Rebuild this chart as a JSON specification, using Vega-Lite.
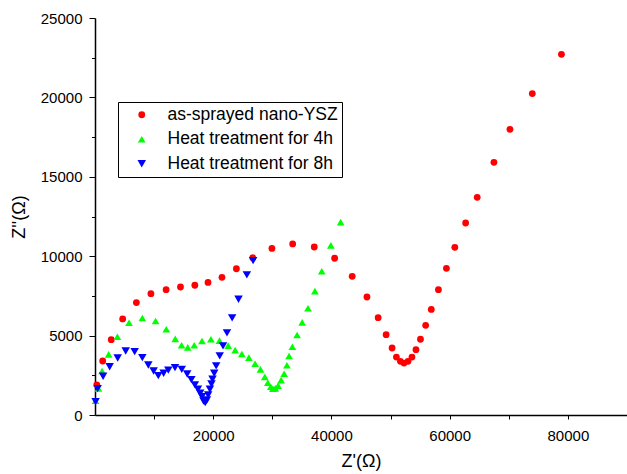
{
  "$schema": "https://vega.github.io/schema/vega-lite/v6.json",
  "width": 532,
  "height": 397,
  "autosize": {"type": "none"},
  "padding": {"left": 95, "top": 18, "right": 0, "bottom": 59},
  "background": "white",
  "config": {"view": {"stroke": null}, "font": "Liberation Sans"},
  "data": {
    "values": [
      {"s": "as-sprayed nano-YSZ", "zr": 300, "zi": 1900},
      {"s": "as-sprayed nano-YSZ", "zr": 1300, "zi": 3400},
      {"s": "as-sprayed nano-YSZ", "zr": 2750, "zi": 4740},
      {"s": "as-sprayed nano-YSZ", "zr": 4680, "zi": 6050},
      {"s": "as-sprayed nano-YSZ", "zr": 7000, "zi": 7080},
      {"s": "as-sprayed nano-YSZ", "zr": 9460, "zi": 7640},
      {"s": "as-sprayed nano-YSZ", "zr": 12030, "zi": 7890},
      {"s": "as-sprayed nano-YSZ", "zr": 14460, "zi": 8060},
      {"s": "as-sprayed nano-YSZ", "zr": 16890, "zi": 8170},
      {"s": "as-sprayed nano-YSZ", "zr": 19120, "zi": 8350},
      {"s": "as-sprayed nano-YSZ", "zr": 21480, "zi": 8670},
      {"s": "as-sprayed nano-YSZ", "zr": 23920, "zi": 9210},
      {"s": "as-sprayed nano-YSZ", "zr": 26690, "zi": 9910},
      {"s": "as-sprayed nano-YSZ", "zr": 29930, "zi": 10490},
      {"s": "as-sprayed nano-YSZ", "zr": 33440, "zi": 10770},
      {"s": "as-sprayed nano-YSZ", "zr": 37090, "zi": 10580},
      {"s": "as-sprayed nano-YSZ", "zr": 40540, "zi": 9870},
      {"s": "as-sprayed nano-YSZ", "zr": 43510, "zi": 8730},
      {"s": "as-sprayed nano-YSZ", "zr": 46010, "zi": 7430},
      {"s": "as-sprayed nano-YSZ", "zr": 47900, "zi": 6130},
      {"s": "as-sprayed nano-YSZ", "zr": 49250, "zi": 5060},
      {"s": "as-sprayed nano-YSZ", "zr": 50260, "zi": 4220},
      {"s": "as-sprayed nano-YSZ", "zr": 50990, "zi": 3650},
      {"s": "as-sprayed nano-YSZ", "zr": 51670, "zi": 3380},
      {"s": "as-sprayed nano-YSZ", "zr": 52270, "zi": 3270},
      {"s": "as-sprayed nano-YSZ", "zr": 52950, "zi": 3380},
      {"s": "as-sprayed nano-YSZ", "zr": 53620, "zi": 3650},
      {"s": "as-sprayed nano-YSZ", "zr": 54300, "zi": 4110},
      {"s": "as-sprayed nano-YSZ", "zr": 55060, "zi": 4770},
      {"s": "as-sprayed nano-YSZ", "zr": 55940, "zi": 5650},
      {"s": "as-sprayed nano-YSZ", "zr": 56890, "zi": 6650},
      {"s": "as-sprayed nano-YSZ", "zr": 58100, "zi": 7890},
      {"s": "as-sprayed nano-YSZ", "zr": 59450, "zi": 9235},
      {"s": "as-sprayed nano-YSZ", "zr": 60870, "zi": 10560},
      {"s": "as-sprayed nano-YSZ", "zr": 62700, "zi": 12090},
      {"s": "as-sprayed nano-YSZ", "zr": 64660, "zi": 13710},
      {"s": "as-sprayed nano-YSZ", "zr": 67490, "zi": 15910},
      {"s": "as-sprayed nano-YSZ", "zr": 70200, "zi": 17990},
      {"s": "as-sprayed nano-YSZ", "zr": 73980, "zi": 20240},
      {"s": "as-sprayed nano-YSZ", "zr": 78910, "zi": 22710},
      {"s": "Heat treatment for 4h", "zr": 100, "zi": 900},
      {"s": "Heat treatment for 4h", "zr": 575, "zi": 1680},
      {"s": "Heat treatment for 4h", "zr": 1200, "zi": 2770},
      {"s": "Heat treatment for 4h", "zr": 2310, "zi": 3820},
      {"s": "Heat treatment for 4h", "zr": 3790, "zi": 4930},
      {"s": "Heat treatment for 4h", "zr": 5760, "zi": 5810},
      {"s": "Heat treatment for 4h", "zr": 8010, "zi": 6110},
      {"s": "Heat treatment for 4h", "zr": 10250, "zi": 5920},
      {"s": "Heat treatment for 4h", "zr": 12060, "zi": 5400},
      {"s": "Heat treatment for 4h", "zr": 13580, "zi": 4790},
      {"s": "Heat treatment for 4h", "zr": 14650, "zi": 4390},
      {"s": "Heat treatment for 4h", "zr": 15690, "zi": 4260},
      {"s": "Heat treatment for 4h", "zr": 16790, "zi": 4390},
      {"s": "Heat treatment for 4h", "zr": 18090, "zi": 4660},
      {"s": "Heat treatment for 4h", "zr": 19610, "zi": 4770},
      {"s": "Heat treatment for 4h", "zr": 21060, "zi": 4680},
      {"s": "Heat treatment for 4h", "zr": 22530, "zi": 4370},
      {"s": "Heat treatment for 4h", "zr": 23710, "zi": 4090},
      {"s": "Heat treatment for 4h", "zr": 24840, "zi": 3840},
      {"s": "Heat treatment for 4h", "zr": 26030, "zi": 3610},
      {"s": "Heat treatment for 4h", "zr": 27090, "zi": 3230},
      {"s": "Heat treatment for 4h", "zr": 27990, "zi": 2870},
      {"s": "Heat treatment for 4h", "zr": 28730, "zi": 2400},
      {"s": "Heat treatment for 4h", "zr": 29240, "zi": 2030},
      {"s": "Heat treatment for 4h", "zr": 29740, "zi": 1780},
      {"s": "Heat treatment for 4h", "zr": 30100, "zi": 1650},
      {"s": "Heat treatment for 4h", "zr": 30500, "zi": 1680},
      {"s": "Heat treatment for 4h", "zr": 30980, "zi": 1850},
      {"s": "Heat treatment for 4h", "zr": 31480, "zi": 2200},
      {"s": "Heat treatment for 4h", "zr": 32000, "zi": 2600},
      {"s": "Heat treatment for 4h", "zr": 32470, "zi": 3130},
      {"s": "Heat treatment for 4h", "zr": 32830, "zi": 3715},
      {"s": "Heat treatment for 4h", "zr": 33390, "zi": 4300},
      {"s": "Heat treatment for 4h", "zr": 34190, "zi": 5040},
      {"s": "Heat treatment for 4h", "zr": 35050, "zi": 5830},
      {"s": "Heat treatment for 4h", "zr": 36030, "zi": 6720},
      {"s": "Heat treatment for 4h", "zr": 37200, "zi": 7800},
      {"s": "Heat treatment for 4h", "zr": 38360, "zi": 9050},
      {"s": "Heat treatment for 4h", "zr": 39900, "zi": 10680},
      {"s": "Heat treatment for 4h", "zr": 41560, "zi": 12150},
      {"s": "Heat treatment for 8h", "zr": 100, "zi": 840},
      {"s": "Heat treatment for 8h", "zr": 450, "zi": 1660},
      {"s": "Heat treatment for 8h", "zr": 1370, "zi": 2440},
      {"s": "Heat treatment for 8h", "zr": 2480, "zi": 3040},
      {"s": "Heat treatment for 8h", "zr": 3840, "zi": 3590},
      {"s": "Heat treatment for 8h", "zr": 5190, "zi": 4030},
      {"s": "Heat treatment for 8h", "zr": 6710, "zi": 3990},
      {"s": "Heat treatment for 8h", "zr": 8010, "zi": 3610},
      {"s": "Heat treatment for 8h", "zr": 9020, "zi": 3150},
      {"s": "Heat treatment for 8h", "zr": 9920, "zi": 2770},
      {"s": "Heat treatment for 8h", "zr": 10710, "zi": 2480},
      {"s": "Heat treatment for 8h", "zr": 11610, "zi": 2630},
      {"s": "Heat treatment for 8h", "zr": 12400, "zi": 2830},
      {"s": "Heat treatment for 8h", "zr": 13530, "zi": 2980},
      {"s": "Heat treatment for 8h", "zr": 14680, "zi": 2870},
      {"s": "Heat treatment for 8h", "zr": 15600, "zi": 2580},
      {"s": "Heat treatment for 8h", "zr": 16300, "zi": 2230},
      {"s": "Heat treatment for 8h", "zr": 16900, "zi": 1900},
      {"s": "Heat treatment for 8h", "zr": 17410, "zi": 1620},
      {"s": "Heat treatment for 8h", "zr": 17800, "zi": 1380},
      {"s": "Heat treatment for 8h", "zr": 18090, "zi": 1150},
      {"s": "Heat treatment for 8h", "zr": 18360, "zi": 880},
      {"s": "Heat treatment for 8h", "zr": 18650, "zi": 775},
      {"s": "Heat treatment for 8h", "zr": 18930, "zi": 945},
      {"s": "Heat treatment for 8h", "zr": 19150, "zi": 1260},
      {"s": "Heat treatment for 8h", "zr": 19440, "zi": 1620},
      {"s": "Heat treatment for 8h", "zr": 19710, "zi": 1950},
      {"s": "Heat treatment for 8h", "zr": 19880, "zi": 2250},
      {"s": "Heat treatment for 8h", "zr": 20170, "zi": 2630},
      {"s": "Heat treatment for 8h", "zr": 20500, "zi": 3090},
      {"s": "Heat treatment for 8h", "zr": 21100, "zi": 3720},
      {"s": "Heat treatment for 8h", "zr": 21660, "zi": 4350},
      {"s": "Heat treatment for 8h", "zr": 22330, "zi": 5170},
      {"s": "Heat treatment for 8h", "zr": 23200, "zi": 6120},
      {"s": "Heat treatment for 8h", "zr": 24280, "zi": 7290},
      {"s": "Heat treatment for 8h", "zr": 25690, "zi": 8820},
      {"s": "Heat treatment for 8h", "zr": 26750, "zi": 9720}
    ]
  },
  "mark": {"type": "point", "filled": true, "opacity": 1, "strokeWidth": 0},
  "encoding": {
    "x": {
      "field": "zr",
      "type": "quantitative",
      "scale": {"domain": [0, 90000], "nice": false, "zero": false},
      "axis": {
        "title": "Z'(Ω)",
        "values": [10000, 20000, 30000, 40000, 50000, 60000, 70000, 80000],
        "format": "d",
        "labelExpr": "datum.value % 20000 === 0 ? datum.label : ''",
        "grid": false,
        "domainColor": "black",
        "domainWidth": 1.5,
        "tickColor": "black",
        "tickWidth": 1,
        "tickSize": 4,
        "labelFontSize": 15,
        "labelColor": "black",
        "labelPadding": 9,
        "labelFlush": false,
        "labelOverlap": false,
        "titleFontSize": 18,
        "titleFontWeight": "normal",
        "titleColor": "black",
        "titlePadding": 9
      }
    },
    "y": {
      "field": "zi",
      "type": "quantitative",
      "scale": {"domain": [0, 25000], "nice": false},
      "axis": {
        "title": "Z''(Ω)",
        "values": [0, 2500, 5000, 7500, 10000, 12500, 15000, 17500, 20000, 22500, 25000],
        "format": "d",
        "labelExpr": "datum.value % 5000 === 0 ? datum.label : ''",
        "grid": false,
        "domainColor": "black",
        "domainWidth": 1.5,
        "tickColor": "black",
        "tickWidth": 1,
        "tickSize": {"condition": {"test": "datum.value % 5000 === 0", "value": 6}, "value": 3.5},
        "labelFontSize": 15,
        "labelColor": "black",
        "labelPadding": 7,
        "labelFlush": false,
        "labelOverlap": false,
        "titleFontSize": 18,
        "titleFontWeight": "normal",
        "titleColor": "black",
        "titlePadding": 12
      }
    },
    "size": {
      "field": "s",
      "type": "nominal",
      "scale": {
        "domain": ["as-sprayed nano-YSZ", "Heat treatment for 4h", "Heat treatment for 8h"],
        "range": [46, 72, 72]
      },
      "legend": null
    },
    "color": {
      "field": "s",
      "type": "nominal",
      "scale": {
        "domain": ["as-sprayed nano-YSZ", "Heat treatment for 4h", "Heat treatment for 8h"],
        "range": ["#ff0000", "#00ff00", "#0000ff"]
      },
      "legend": {
        "orient": "none",
        "legendX": 23,
        "legendY": 84,
        "title": null,
        "strokeColor": "black",
        "fillColor": "white",
        "padding": 4,
        "labelFontSize": 17.5,
        "labelColor": "black",
        "labelLimit": 400,
        "symbolSize": 34,
        "symbolOffset": 11,
        "labelOffset": 17,
        "rowPadding": 5.5
      }
    },
    "shape": {
      "field": "s",
      "type": "nominal",
      "scale": {
        "domain": ["as-sprayed nano-YSZ", "Heat treatment for 4h", "Heat treatment for 8h"],
        "range": ["circle", "triangle-up", "triangle-down"]
      },
      "legend": {
        "orient": "none",
        "legendX": 23,
        "legendY": 84,
        "title": null,
        "strokeColor": "black",
        "fillColor": "white",
        "padding": 4,
        "labelFontSize": 17.5,
        "labelColor": "black",
        "labelLimit": 400,
        "symbolSize": 34,
        "symbolOffset": 11,
        "labelOffset": 17,
        "rowPadding": 5.5
      }
    }
  }
}
